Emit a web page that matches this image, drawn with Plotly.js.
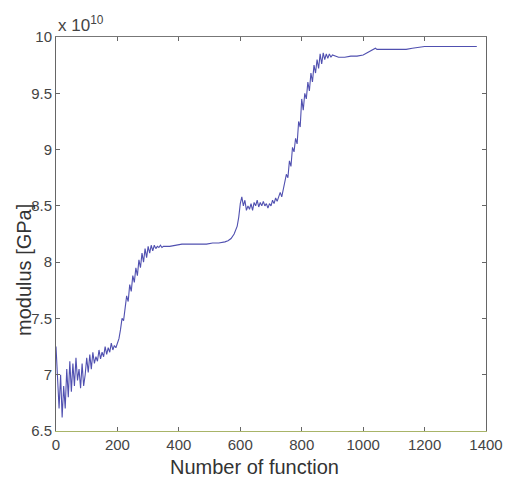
<!DOCTYPE html>
<html>
<head>
<meta charset="utf-8">
<script src="https://cdn.plot.ly/plotly-3.0.1.min.js"></script>
<style>html,body{margin:0;padding:0;background:#fff;}#chart{width:506px;height:484px;}</style>
</head>
<body>
<div id="chart"></div>
<script>
// Number of function evaluations (x) and modulus values in units of 1e10 (y)
const xA = [0,5,10,15,20,25,30,35,40,45,50,55,60,65,70,75,80,85,90,95,100,105,110,115,120,125,130,135,140,145,150,155,160,165,170,175,180,185,190,195,200,205,210,215,220,225,230,235,240,245,250,255,260,265,270,275,280,285,290,295,300,305,310,315,320,325,330,335,340,345,350];
const yA = [7.25,6.95,6.70,7.00,6.62,6.90,6.70,7.05,6.80,7.12,6.85,7.10,6.90,7.15,6.95,7.05,6.88,7.10,6.90,7.00,7.15,7.02,7.18,7.05,7.20,7.10,7.16,7.12,7.22,7.14,7.20,7.16,7.25,7.18,7.24,7.20,7.28,7.22,7.26,7.24,7.28,7.32,7.40,7.50,7.48,7.62,7.70,7.65,7.80,7.74,7.88,7.82,7.95,7.88,8.02,7.95,8.08,8.00,8.12,8.04,8.14,8.08,8.15,8.10,8.15,8.12,8.14,8.13,8.15,8.13,8.14];
const xB = [370,390,410,430,450,470,490,510,530,550,560,570,580,590];
const yB = [8.14,8.15,8.16,8.16,8.16,8.16,8.16,8.17,8.17,8.18,8.19,8.21,8.25,8.32];
const xC = [595,600,605,610,615,620,625,630,635,640,645,650,655,660,665,670,675,680,685,690,695,700,705,710,715,720,725,730,735,740,745,750,755,760,765,770,775,780,785,790,795,800,805,810,815,820,825,830,835,840,845,850,855,860,865,870,875,880,885,890,895,900];
const yC = [8.40,8.52,8.58,8.50,8.55,8.46,8.50,8.47,8.52,8.46,8.53,8.50,8.55,8.49,8.53,8.50,8.54,8.50,8.52,8.48,8.52,8.50,8.55,8.52,8.57,8.54,8.58,8.62,8.58,8.65,8.72,8.78,8.75,8.90,8.85,9.02,8.98,9.10,9.05,9.25,9.20,9.45,9.35,9.50,9.45,9.60,9.52,9.68,9.60,9.75,9.68,9.80,9.72,9.85,9.76,9.86,9.80,9.85,9.81,9.85,9.82,9.84];
const xD = [920,940,960,980,1000,1015,1030,1040,1045,1060,1080,1100,1120,1140,1160,1180,1200,1240,1280,1320,1370];
const yD = [9.82,9.82,9.83,9.83,9.84,9.86,9.88,9.90,9.89,9.89,9.89,9.89,9.89,9.89,9.90,9.91,9.915,9.915,9.915,9.915,9.915];

const xTicks = [0,200,400,600,800,1000,1200,1400];
const yTicks = [6.5,7,7.5,8,8.5,9,9.5,10];
const yTickText = ['6.5','7','7.5','8','8.5','9','9.5','10'];

const xs = xA.concat(xB, xC, xD);
const ys = yA.concat(yB, yC, yD);

const font = 'Liberation Sans, Arial, sans-serif';
const trace = {
  x: xs, y: ys, type: 'scatter', mode: 'lines',
  line: {color: '#5050b0', width: 1.1},
  hoverinfo: 'skip'
};
const common = {
  ticks: 'inside', ticklen: 4, tickcolor: '#666', showline: true, linewidth: 1,
  showgrid: false, zeroline: false,
  tickfont: {family: font, size: 15, color: '#444'}
};
const layout = {
  width: 506, height: 484,
  margin: {l: 56, r: 20, t: 37, b: 53},
  paper_bgcolor: '#ffffff', plot_bgcolor: '#ffffff',
  showlegend: false,
  font: {family: font, color: '#333', size: 15},
  xaxis: Object.assign({}, common, {
    range: [0, 1400], tickvals: xTicks, ticktext: xTicks.map(String),
    linecolor: '#a8b468'
  }),
  xaxis2: Object.assign({}, common, {
    range: [0, 1400], tickvals: xTicks, overlaying: 'x', side: 'top',
    showticklabels: false, linecolor: '#777'
  }),
  yaxis: Object.assign({}, common, {
    range: [6.5, 10], tickvals: yTicks, ticktext: yTickText,
    linecolor: '#666', mirror: 'ticks'
  }),
  annotations: [
    {xref: 'paper', yref: 'paper', x: 0.0, y: 1.0, xanchor: 'left', yanchor: 'bottom',
     text: 'x 10<sup>10</sup>', showarrow: false, font: {family: font, size: 17, color: '#444'}},
    {xref: 'paper', yref: 'paper', x: (254 - 56) / 430, y: -(467 - 431) / 394, xanchor: 'center', yanchor: 'middle',
     text: 'Number of function', showarrow: false, font: {family: font, size: 20, color: '#333'}},
    {xref: 'paper', yref: 'paper', x: -(56 - 24) / 430, y: 1 - (270 - 37) / 394, xanchor: 'center', yanchor: 'middle',
     text: 'modulus [GPa]', textangle: -90, showarrow: false, font: {family: font, size: 20, color: '#333'}}
  ]
};
const trace2 = {x: [0, 1400], y: [null, null], xaxis: 'x2', yaxis: 'y', mode: 'lines', hoverinfo: 'skip', showlegend: false};
Plotly.newPlot('chart', [trace, trace2], layout, {staticPlot: true, displayModeBar: false});
</script>
</body>
</html>
